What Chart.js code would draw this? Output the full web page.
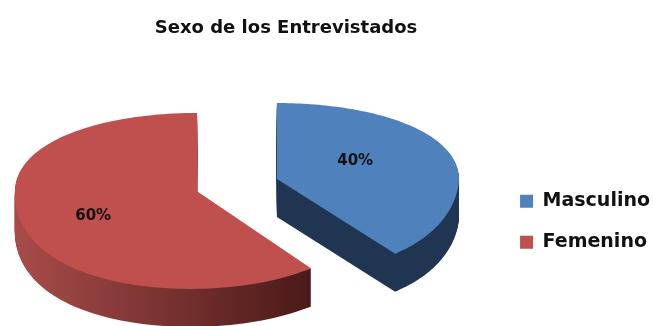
<!DOCTYPE html>
<html>
<head>
<meta charset="utf-8">
<title>Sexo de los Entrevistados</title>
<script src="https://cdn.jsdelivr.net/npm/chart.js@4"></script>
<style>
  html, body { margin: 0; padding: 0; background: #fff; }
  canvas { display: block; }
</style>
</head>
<body>
<canvas id="chart" width="653" height="326"></canvas>
<script>
const categories = ["Masculino", "Femenino"];
const percentages = [40, 60];
const topColors = ["#4f81bd", "#c0504d"];
// left and right colour of the outer wall
const wallColors = [["#1f3552", "#1f3552"], ["#a84c4a", "#4a1a18"]];
const labelRadius = [0.48, 0.62];
const labelTurn = (-6 * Math.PI) / 180;

const fontFamily = "'DejaVu Sans', sans-serif";

// where the pie sits and how it is tilted
const PIE_X = 237;
const PIE_Y = 185;
const RADIUS = 182;
const EXPLODE = 42;
const TILT = 0.47;
const PERSPECTIVE = 0.11;
const WIDEN = 0.14;
const DEPTH = 38;

// flat pie position -> tilted position on the page
function project(el, px, py) {
  const dx = px - el.x;
  const dy = py - el.y;
  const d = dy / RADIUS;
  const s = 1 / (1 - PERSPECTIVE * d);
  // only the front half widens so the straight back edges stay upright
  const sx = d > 0 ? 1 + WIDEN * d * d : 1;
  return { x: PIE_X + dx * sx, y: PIE_Y + TILT * dy * s };
}

function slicePoints(el) {
  const mid = (el.startAngle + el.endAngle) / 2;
  const cx = el.x + el.options.offset * Math.cos(mid);
  const cy = el.y + el.options.offset * Math.sin(mid);
  const pts = [project(el, cx, cy)];
  const steps = 120;
  for (let i = 0; i <= steps; i++) {
    const a = el.startAngle + ((el.endAngle - el.startAngle) * i) / steps;
    pts.push(project(el, cx + el.outerRadius * Math.cos(a), cy + el.outerRadius * Math.sin(a)));
  }
  return pts;
}

function tracePath(ctx, pts, shift) {
  ctx.beginPath();
  pts.forEach((p, i) => {
    if (i === 0) ctx.moveTo(p.x, p.y + shift);
    else ctx.lineTo(p.x, p.y + shift);
  });
  ctx.closePath();
}

const pie3d = {
  id: "pie3d",
  beforeDatasetsDraw(chart) {
    const ctx = chart.ctx;
    const arcs = chart.getDatasetMeta(0).data;
    ctx.save();
    arcs.forEach((el, i) => {
      const pts = slicePoints(el);
      const xs = pts.map((p) => p.x);
      const grad = ctx.createLinearGradient(Math.min(...xs), 0, Math.max(...xs), 0);
      grad.addColorStop(0, wallColors[i][0]);
      grad.addColorStop(1, wallColors[i][1]);
      ctx.fillStyle = grad;
      // the wall is the slice outline stacked downwards
      for (let h = DEPTH; h > 0; h--) {
        tracePath(ctx, pts, h);
        ctx.fill();
      }
      tracePath(ctx, pts, 0);
      ctx.fillStyle = el.options.backgroundColor;
      ctx.fill();
    });

    ctx.fillStyle = "#111";
    ctx.font = "bold 15px " + fontFamily;
    ctx.textAlign = "center";
    ctx.textBaseline = "middle";
    arcs.forEach((el, i) => {
      const mid = (el.startAngle + el.endAngle) / 2;
      const r = el.options.offset + el.outerRadius * labelRadius[i];
      const a = mid + labelTurn;
      const p = project(el, el.x + r * Math.cos(a), el.y + r * Math.sin(a));
      ctx.fillText(percentages[i] + "%", p.x, p.y);
    });
    ctx.restore();
    return false;
  },
};

new Chart(document.getElementById("chart"), {
  type: "pie",
  data: {
    labels: categories,
    datasets: [
      {
        data: percentages,
        backgroundColor: topColors,
        borderWidth: 0,
        offset: EXPLODE,
      },
    ],
  },
  plugins: [pie3d],
  options: {
    responsive: false,
    animation: false,
    radius: RADIUS,
    layout: { padding: { left: 74, right: -7 } },
    plugins: {
      tooltip: { enabled: false },
      title: {
        display: true,
        text: "Sexo de los Entrevistados",
        color: "#111",
        fullSize: false,
        font: { family: fontFamily, size: 18, weight: "bold" },
        padding: { top: 18, bottom: 78 },
      },
      legend: {
        position: "right",
        fullSize: false,
        labels: {
          boxWidth: 13,
          boxHeight: 13,
          padding: 22,
          color: "#111",
          font: { family: fontFamily, size: 19, weight: "bold" },
        },
      },
    },
  },
});
</script>
</body>
</html>
